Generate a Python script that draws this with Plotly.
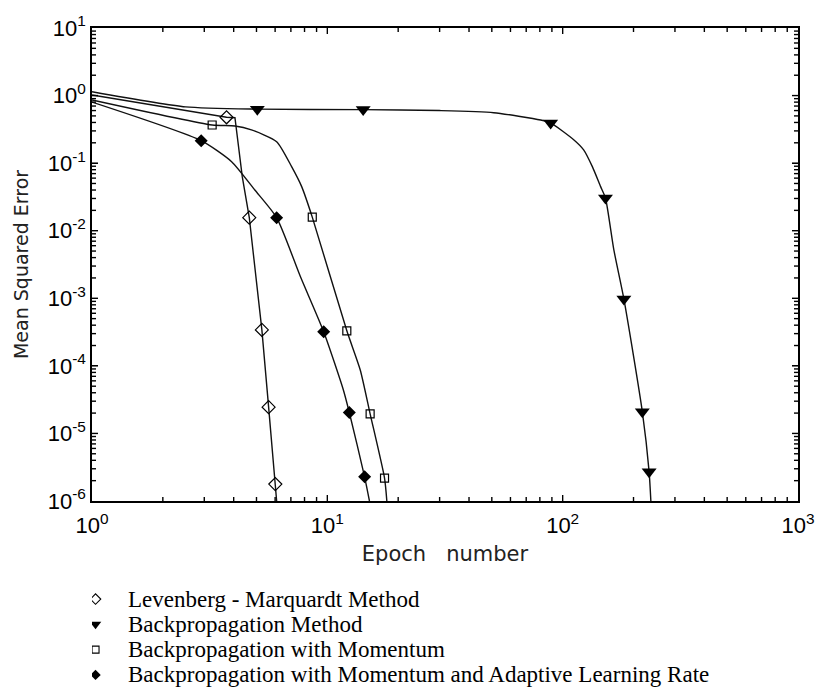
import plotly.graph_objects as go

# ---- data ----
lm_epoch = [1.0, 3.73, 4.05, 4.35, 4.66, 5.27, 5.63, 6.01, 6.09]
lm_mse = [1.02, 0.477, 0.47, 0.063, 0.0156, 3.4e-4, 2.45e-5, 1.78e-6, 1.0e-6]
lm_mark_epoch = [3.73, 4.66, 5.27, 5.63, 6.01]
lm_mark_mse = [0.477, 0.0156, 3.4e-4, 2.45e-5, 1.78e-6]

bp_epoch = [1.0, 2.5, 5.04, 14.2, 30.0, 50.9, 80.6, 88.9, 111.7, 122.8, 133.7, 145.0, 152.0, 165.0, 182.0, 218.0, 233.0, 237.0]
bp_mse = [1.14, 0.68, 0.63, 0.62, 0.60, 0.558, 0.435, 0.393, 0.22, 0.157, 0.0887, 0.0449, 0.0305, 5.2e-3, 9.8e-4, 2.1e-5, 2.7e-6, 1.0e-6]
bp_mark_epoch = [5.04, 14.2, 88.9, 152.0, 182.0, 218.0, 233.0]
bp_mark_mse = [0.63, 0.62, 0.393, 0.0305, 9.8e-4, 2.1e-5, 2.7e-6]

bpm_epoch = [1.0, 3.24, 4.05, 4.76, 6.09, 7.05, 7.78, 8.63, 12.1, 13.8, 15.2, 17.5, 17.9]
bpm_mse = [0.86, 0.367, 0.355, 0.31, 0.208, 0.0887, 0.0449, 0.0159, 3.3e-4, 8.7e-5, 1.95e-5, 2.18e-6, 1.0e-6]
bpm_mark_epoch = [3.24, 8.63, 12.1, 15.2, 17.5]
bpm_mark_mse = [0.367, 0.0159, 3.3e-4, 1.95e-5, 2.18e-6]

bpma_epoch = [1.0, 2.91, 3.92, 4.92, 6.09, 7.68, 9.65, 11.7, 12.4, 14.4, 15.1]
bpma_mse = [0.80, 0.215, 0.105, 0.040, 0.0156, 2.1e-3, 3.2e-4, 4.4e-5, 2.04e-5, 2.28e-6, 1.0e-6]
bpma_mark_epoch = [2.91, 6.09, 9.65, 12.4, 14.4]
bpma_mark_mse = [0.215, 0.0156, 3.2e-4, 2.04e-5, 2.28e-6]

series_names = [
    "Levenberg - Marquardt Method",
    "Backpropagation Method",
    "Backpropagation with Momentum",
    "Backpropagation with Momentum and Adaptive Learning Rate",
]

x_major = [1, 10, 100, 1000]
x_major_text = ["10<sup>0</sup>", "10<sup>1</sup>", "10<sup>2</sup>", "10<sup>3</sup>"]
y_major = [1e-6, 1e-5, 1e-4, 1e-3, 1e-2, 1e-1, 1, 10]
y_major_text = ["10<sup>-6</sup>", "10<sup>-5</sup>", "10<sup>-4</sup>", "10<sup>-3</sup>",
                "10<sup>-2</sup>", "10<sup>-1</sup>", "10<sup>0</sup>", "10<sup>1</sup>"]

x_minor = [m * 10 ** k for k in range(0, 3) for m in range(2, 10)]
y_minor = [m * 10.0 ** k for k in range(-6, 1) for m in range(2, 10)]

# ---- layout geometry ----
W, H = 820, 689
M_L, M_R, M_T, M_B = 92, 22, 28, 0
plot_bottom_px = 501
area_h = H - M_T - M_B
main_bottom = (H - M_B - plot_bottom_px) / area_h  # fraction where main axes start

fig = go.Figure()

styles = [
    dict(symbol="diamond-open", size=10, color="black", line=dict(width=1.2, color="black")),
    dict(symbol="triangle-down", size=13, color="black"),
    dict(symbol="square-open", size=8, color="black", line=dict(width=1.2, color="black")),
    dict(symbol="diamond", size=10, color="black"),
]
legend_styles = [
    dict(symbol="diamond-open", size=8, color="black", line=dict(width=1.1, color="black")),
    dict(symbol="triangle-down", size=10, color="black"),
    dict(symbol="square-open", size=7, color="black", line=dict(width=1.1, color="black")),
    dict(symbol="diamond", size=8, color="black"),
]
shapes = ["linear", "spline", "spline", "spline"]

curves = [
    (lm_epoch, lm_mse, lm_mark_epoch, lm_mark_mse),
    (bp_epoch, bp_mse, bp_mark_epoch, bp_mark_mse),
    (bpm_epoch, bpm_mse, bpm_mark_epoch, bpm_mark_mse),
    (bpma_epoch, bpma_mse, bpma_mark_epoch, bpma_mark_mse),
]

for (ex, ey, mx, my), shp in zip(curves, shapes):
    line = dict(color="#111111", width=1.4, shape=shp)
    if shp == "spline":
        line["smoothing"] = 0.6
    fig.add_trace(go.Scatter(x=ex, y=ey, mode="lines", line=line,
                             showlegend=False, hoverinfo="skip"))
for (ex, ey, mx, my), name, st in zip(curves, series_names, styles):
    fig.add_trace(go.Scatter(x=mx, y=my, mode="markers", name=name,
                             marker=st, showlegend=False))

# hand-drawn legend below the plot (markers + serif text)
legend_marker_x = 0.005
legend_text_x = 0.048
for name, st in zip(series_names, legend_styles):
    fig.add_trace(go.Scatter(x=[legend_marker_x], y=[name], mode="markers",
                             marker=st, xaxis="x2", yaxis="y2",
                             showlegend=False, hoverinfo="skip"))
    fig.add_annotation(x=legend_text_x, y=name, xref="x2", yref="y2",
                       text=name, showarrow=False, xanchor="left", yanchor="middle",
                       font=dict(family="Liberation Serif, Times New Roman", size=23, color="black"))

# tick marks on all four sides (inside), drawn as pixel-sized shapes at data values
tick_line = dict(color="black", width=1.4)
def add_x_ticks(vals, length):
    for v in vals:
        for anchor, sign in ((0, 1), (1, -1)):
            fig.add_shape(type="line", xref="x", yref="y domain", ysizemode="pixel",
                          yanchor=anchor, x0=v, x1=v, y0=0, y1=sign * length,
                          line=tick_line, layer="above")
def add_y_ticks(vals, length):
    for v in vals:
        for anchor, sign in ((0, 1), (1, -1)):
            fig.add_shape(type="line", xref="x domain", yref="y", xsizemode="pixel",
                          xanchor=anchor, y0=v, y1=v, x0=0, x1=sign * length,
                          line=tick_line, layer="above")

add_x_ticks(x_minor, 4)
add_y_ticks(y_minor, 4)
add_x_ticks(x_major[1:-1], 6)
add_y_ticks(y_major[1:-1], 6)

axis_common = dict(
    showline=True, linecolor="black", linewidth=1.5, mirror="ticks",
    ticks="inside", ticklen=6, tickwidth=1.4, tickcolor="black",
    showgrid=False, zeroline=False, automargin=False,
    tickfont=dict(family="Liberation Sans, Arial", size=22, color="black"),
)

fig.update_layout(
    xaxis=dict(
        type="log", range=[0, 3], domain=[0, 1], anchor="y",
        tickmode="array", tickvals=x_major, ticktext=x_major_text,
        title=dict(text="Epoch\u00a0\u00a0\u00a0number",
                   font=dict(family="DejaVu Sans", size=21, color="#222222"), standoff=9),
        ticklabelstandoff=4,
        **axis_common,
    ),
    yaxis=dict(
        type="log", range=[-6, 1], domain=[main_bottom, 1], anchor="x",
        tickmode="array", tickvals=y_major, ticktext=y_major_text,
        title=dict(text="Mean Squared Error",
                   font=dict(family="DejaVu Sans", size=19, color="#222222"), standoff=14),
        **axis_common,
    ),
    xaxis2=dict(domain=[0, 1], anchor="y2", range=[0, 1], visible=False,
                fixedrange=True, automargin=False),
    yaxis2=dict(domain=[0, main_bottom * 0.999], anchor="x2", type="category",
                categoryorder="array", categoryarray=series_names,
                range=[3.557, -3.873], visible=False, fixedrange=True, automargin=False),
    width=W, height=H,
    margin=dict(l=M_L, r=M_R, t=M_T, b=M_B),
    paper_bgcolor="white", plot_bgcolor="white",
    showlegend=False,
)

fig.write_html("out.html")
